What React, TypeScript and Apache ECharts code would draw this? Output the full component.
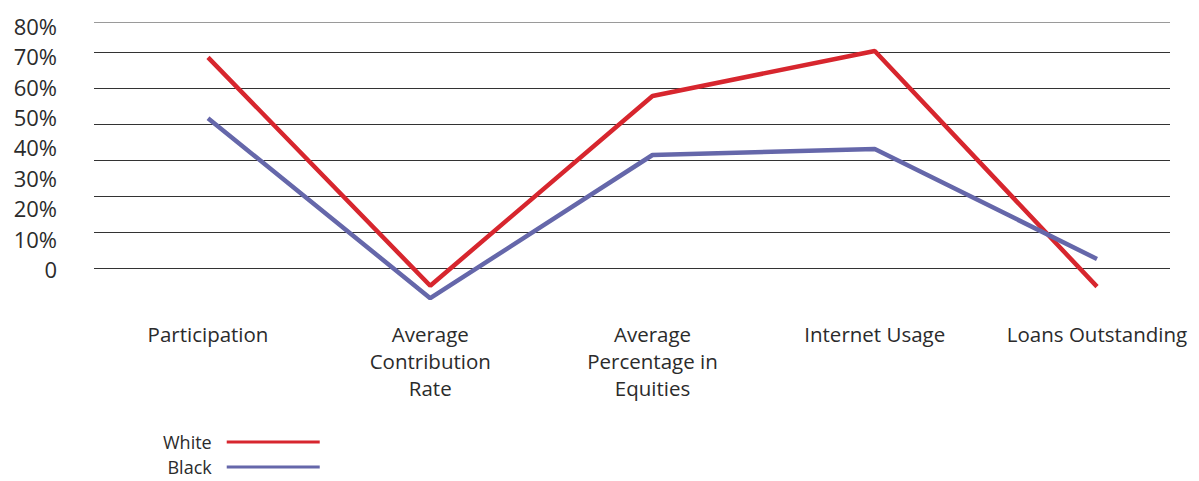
import React, { useEffect, useRef } from "react";
import * as echarts from "echarts";

const categories = [
  "Participation",
  "Average\nContribution\nRate",
  "Average\nPercentage in\nEquities",
  "Internet Usage",
  "Loans Outstanding",
];
const whiteValues = [69.6, -5.5, 56.9, 71.7, -5.8];
const blackValues = [49.6, -9.6, 37.5, 39.5, 3.3];
const tickLabels = [0, 10, 20, 30, 40, 50, 60, 70, 80];
const gridLineValues = [0, 10, 20, 30, 40, 50, 60];

const FONT = "'Open Sans', 'Noto Sans', sans-serif";
const TEXT = "#2b2b2b";
const RED = "#d7262e";
const BLUE = "#6567aa";

export default function App() {
  const ref = useRef<HTMLDivElement>(null);
  useEffect(() => {
    if (!ref.current) return;
    const chart = echarts.init(ref.current, null, { renderer: "svg" });
    const top = 22.7;
    const height = 281.3;
    chart.setOption({
      animation: false,
      textStyle: { fontFamily: FONT },
      grid: [
        { left: 94, top, width: 1076, height },
        { left: 208, top, width: 889, height },
      ],
      legend: {
        orient: "vertical",
        left: 163,
        top: 432,
        height: 100,
        padding: 0,
        align: "right",
        icon: "rect",
        itemWidth: 93,
        itemHeight: 3,
        itemGap: 5,
        textStyle: {
          fontFamily: FONT,
          fontSize: 18,
          lineHeight: 20,
          color: TEXT,
          padding: [0, 10, 0, 0],
        },
        data: ["White", "Black"],
      },
      xAxis: [
        { type: "value", gridIndex: 0, show: false, min: 0, max: 1 },
        {
          type: "category",
          gridIndex: 1,
          data: categories,
          boundaryGap: false,
          axisLine: { show: false },
          axisTick: { show: false },
          axisLabel: {
            interval: 0,
            margin: 16,
            fontFamily: FONT,
            fontSize: 20.5,
            lineHeight: 27,
            color: TEXT,
            verticalAlign: "top",
          },
        },
      ],
      yAxis: [
        {
          type: "value",
          gridIndex: 0,
          position: "left",
          min: -10,
          max: 68.14,
          interval: 10,
          axisLine: { show: false },
          axisTick: { show: false },
          axisLabel: { show: false },
          splitLine: {
            show: true,
            lineStyle: {
              width: 1.2,
              color: [
                "rgba(0,0,0,0)",
                ...gridLineValues.map(() => "#333333"),
                "#9a9a9a",
              ],
            },
          },
        },
        {
          type: "value",
          gridIndex: 0,
          position: "left",
          offset: 0,
          min: -11.5,
          max: 81,
          axisLine: { show: false },
          axisTick: { show: false },
          splitLine: { show: false },
          axisLabel: {
            customValues: tickLabels,
            margin: 37,
            fontFamily: FONT,
            fontSize: 22,
            color: TEXT,
            formatter: (v: number) => (v === 0 ? "0" : `${v}%`),
          },
        },
        {
          type: "value",
          gridIndex: 1,
          min: -11.5,
          max: 81,
          show: false,
          splitLine: { show: false },
        },
      ],
      series: [
        {
          name: "White",
          type: "line",
          xAxisIndex: 1,
          yAxisIndex: 2,
          data: whiteValues,
          symbol: "none",
          color: RED,
          lineStyle: { color: RED, width: 4.5 },
        },
        {
          name: "Black",
          type: "line",
          xAxisIndex: 1,
          yAxisIndex: 2,
          data: blackValues,
          symbol: "none",
          color: BLUE,
          lineStyle: { color: BLUE, width: 4.5 },
        },
      ],
    });
    return () => chart.dispose();
  }, []);
  return (
    <div
      ref={ref}
      style={{ position: "absolute", left: 0, top: 0, width: 1199, height: 481 }}
    />
  );
}
